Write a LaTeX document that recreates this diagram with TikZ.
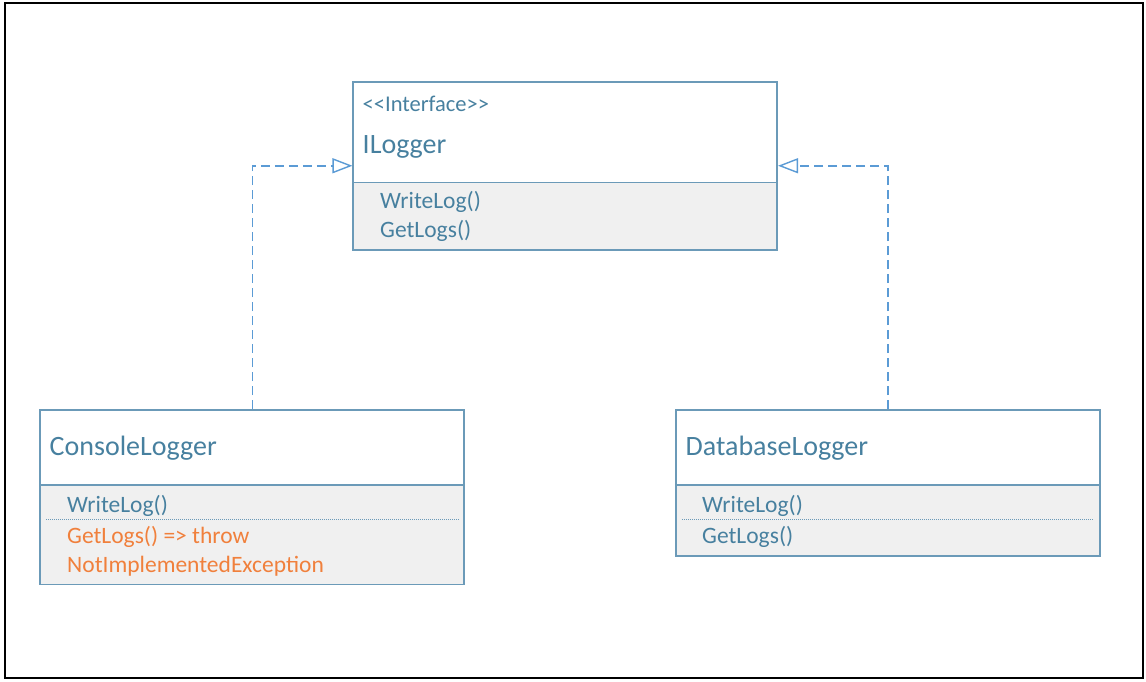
\documentclass[tikz,border=0pt]{standalone}
\usepackage{fontspec}
\setmainfont{Carlito}
\usetikzlibrary{arrows.meta}
\definecolor{txt}{HTML}{47809F}
\definecolor{bord}{HTML}{6B9AB8}
\definecolor{arr}{HTML}{5B9BD5}
\definecolor{org}{HTML}{F0803C}
\definecolor{grayfill}{HTML}{F0F0F0}
\tikzset{
  classbox/.style={draw=bord, line width=1.6pt, rectangle, inner sep=0pt, minimum width=424pt},
  comp/.style={fill=grayfill},
  divline/.style={draw=bord, line width=1.4pt},
  dotline/.style={draw=bord, line width=1pt, dash pattern=on 1pt off 1pt},
  lbl/.style={anchor=base west, inner sep=0pt, text=txt},
  olbl/.style={anchor=base west, inner sep=0pt, text=org},
  namefont/.style={font=\fontsize{28}{28}\selectfont},
  methfont/.style={font=\fontsize{23.5}{23.5}\selectfont},
  realize/.style={draw=arr, line width=1.5pt, dash pattern=on 9pt off 5pt,
    -{Triangle[open, length=20pt, width=15pt, fill=white, line width=1.4pt]}},
}
\begin{document}
\begin{tikzpicture}[x=1pt,y=-1pt]
\useasboundingbox (0,0) rectangle (1146,681);
\draw[line width=2.5pt, black] (5,3) rectangle (1143,678);
% compartments (gray)
\fill[comp] (353.5,182.5) rectangle (777,250);
\fill[comp] (40.5,485) rectangle (464,584.5);
\fill[comp] (676,485) rectangle (1099.5,556);
% class boxes
\node[classbox, minimum height=168pt] (il) at (565.25,165.75) {};
\node[classbox, minimum height=174.5pt] (cl) at (252.25,497.25) {};
\node[classbox, minimum height=146pt] (db) at (887.75,483) {};
% dividers
\draw[divline] (il.west |- 0,182.5) -- (il.east |- 0,182.5);
\draw[divline] (cl.west |- 0,485) -- (cl.east |- 0,485);
\draw[divline] (db.west |- 0,485) -- (db.east |- 0,485);
\draw[dotline] (46,519) -- (459,519);
\draw[dotline] (682,519) -- (1094,519);
% texts
\node[lbl, font=\fontsize{22.5}{22.5}\selectfont] (ilst) at (362.5,111) {<\kern0pt<Interface>\kern0pt>};
\node[lbl, namefont] (ilname) at (362.5,153) {ILogger};
\node[lbl, methfont] (ilm1) at (380,208) {WriteLog()};
\node[lbl, methfont] (ilm2) at (380,237) {GetLogs()};
\node[lbl, namefont] (clname) at (49.5,455) {ConsoleLogger};
\node[lbl, methfont] (clm1) at (67,512) {WriteLog()};
\node[olbl, methfont] (clm2) at (67,543) {GetLogs() => throw};
\node[olbl, methfont] (clm3) at (67,572) {NotImplementedException};
\node[lbl, namefont] (dbname) at (685.5,455) {DatabaseLogger};
\node[lbl, methfont] (dbm1) at (702,512) {WriteLog()};
\node[lbl, methfont] (dbm2) at (702,543) {GetLogs()};
% connectors
\draw[realize] (cl.north) |- (il.west);
\draw[realize] (db.north) |- (il.east);
\end{tikzpicture}
\end{document}
